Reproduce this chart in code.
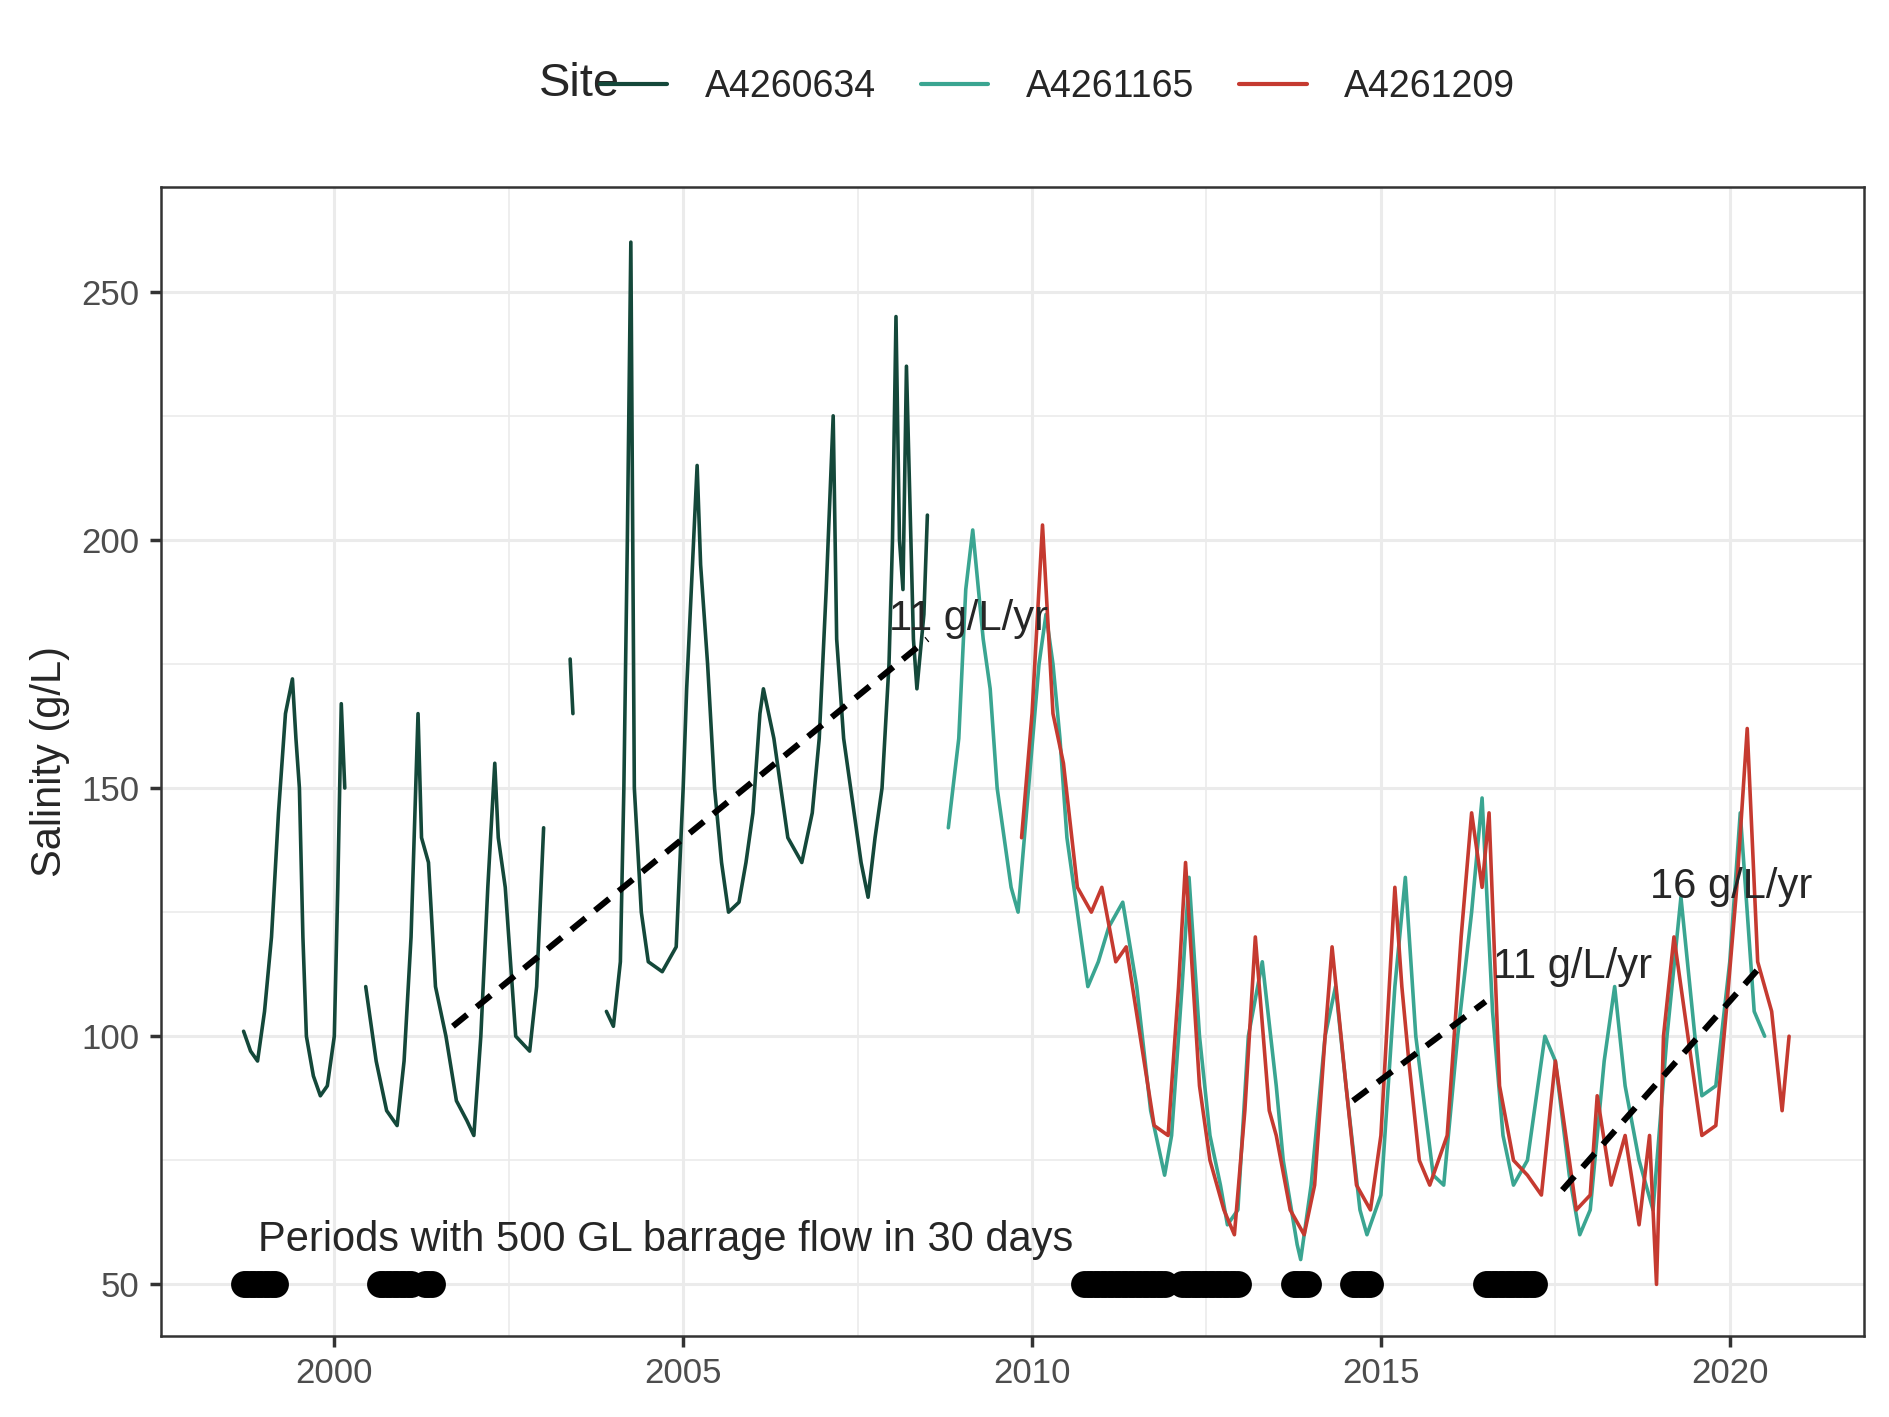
import numpy as np, pandas as pd, matplotlib
matplotlib.use("Agg")
import matplotlib.pyplot as plt, seaborn as sns
from matplotlib.lines import Line2D

# A4260634 segments (decimal year, salinity)
s1_t = [[1998.7,1998.8,1998.9,1999.0,1999.1,1999.2,1999.3,1999.4,1999.45,1999.5,1999.55,1999.6,1999.7,1999.8,1999.9,2000.0,2000.05,2000.1,2000.15],
        [2000.45,2000.6,2000.75,2000.9,2001.0,2001.1,2001.2,2001.25,2001.35,2001.45,2001.6,2001.75,2001.9,2002.0,2002.1,2002.2,2002.3,2002.35,2002.45,2002.6,2002.8,2002.9,2003.0],
        [2003.38,2003.42],
        [2003.9,2004.0,2004.1,2004.15,2004.2,2004.25,2004.3,2004.4,2004.5,2004.7,2004.9,2005.0,2005.05,2005.15,2005.2,2005.25,2005.35,2005.45,2005.55,2005.65,2005.8,2005.9,2006.0,2006.1,2006.15,2006.3,2006.5,2006.7,2006.85,2006.95,2007.05,2007.15,2007.2,2007.3,2007.45,2007.55,2007.65,2007.75,2007.85,2007.95,2008.0,2008.05,2008.1,2008.15,2008.2,2008.3,2008.35,2008.45,2008.5]]
s1_v = [[101,97,95,105,120,145,165,172,160,150,120,100,92,88,90,100,130,167,150],
        [110,95,85,82,95,120,165,140,135,110,100,87,83,80,100,130,155,140,130,100,97,110,142],
        [176,165],
        [105,102,115,150,200,260,150,125,115,113,118,150,170,200,215,195,175,150,135,125,127,135,145,165,170,160,140,135,145,160,190,225,180,160,145,135,128,140,150,175,200,245,200,190,235,180,170,185,205]]
# A4261165
s2_t = [2008.8,2008.95,2009.05,2009.15,2009.3,2009.4,2009.5,2009.6,2009.7,2009.8,2009.95,2010.1,2010.2,2010.3,2010.4,2010.5,2010.6,2010.7,2010.8,2010.95,2011.1,2011.3,2011.5,2011.7,2011.9,2012.0,2012.15,2012.25,2012.4,2012.55,2012.7,2012.8,2012.95,2013.1,2013.3,2013.5,2013.6,2013.8,2013.85,2014.0,2014.2,2014.35,2014.5,2014.7,2014.8,2015.0,2015.2,2015.35,2015.5,2015.75,2015.9,2016.1,2016.3,2016.45,2016.6,2016.75,2016.9,2017.1,2017.35,2017.5,2017.7,2017.85,2018.0,2018.2,2018.35,2018.5,2018.7,2018.9,2019.1,2019.3,2019.5,2019.6,2019.8,2020.0,2020.15,2020.35,2020.5]
s2_v = [142,160,190,202,180,170,150,140,130,125,150,175,185,175,160,140,130,120,110,115,122,127,110,85,72,80,110,132,100,80,70,62,65,100,115,90,75,58,55,70,100,110,90,65,60,68,110,132,100,72,70,100,125,148,105,80,70,75,100,95,72,60,65,95,110,90,75,65,100,128,100,88,90,115,145,105,100]
# A4261209
s3_t = [2009.85,2010.0,2010.15,2010.3,2010.45,2010.65,2010.85,2011.0,2011.2,2011.35,2011.55,2011.75,2011.95,2012.1,2012.2,2012.4,2012.55,2012.75,2012.9,2013.05,2013.2,2013.4,2013.5,2013.7,2013.9,2014.05,2014.2,2014.3,2014.5,2014.65,2014.85,2015.0,2015.2,2015.3,2015.4,2015.55,2015.7,2015.95,2016.15,2016.3,2016.45,2016.55,2016.7,2016.9,2017.1,2017.3,2017.5,2017.6,2017.8,2018.0,2018.1,2018.3,2018.5,2018.7,2018.85,2018.95,2019.05,2019.2,2019.4,2019.6,2019.8,2019.95,2020.1,2020.25,2020.4,2020.6,2020.75,2020.85]
s3_v = [140,165,203,165,155,130,125,130,115,118,100,82,80,110,135,90,75,65,60,85,120,85,80,65,60,70,100,118,90,70,65,80,130,110,95,75,70,80,120,145,130,145,90,75,72,68,95,85,65,68,88,70,80,62,80,50,100,120,100,80,82,105,130,162,115,105,85,100]

trend_x = [[2001.7,2008.5],[2014.6,2016.5],[2017.6,2020.5]]
trend_y = [[102,180],[87,107],[69,115]]
trend_lab = ["11 g/L/yr","11 g/L/yr","16 g/L/yr"]
lab_xy = [(2007.95,180),(2016.6,110),(2018.85,126)]
flow_start = [1998.7,2000.65,2001.3,2010.75,2012.15,2013.75,2014.6,2016.5]
flow_end   = [1999.15,2001.1,2001.4,2011.9,2012.95,2013.95,2014.85,2017.2]

rows=[]
for k,(t,v) in enumerate(zip(s1_t,s1_v)):
    rows += [("A4260634",k,a,b) for a,b in zip(t,v)]
rows += [("A4261165",10,a,b) for a,b in zip(s2_t,s2_v)]
rows += [("A4261209",20,a,b) for a,b in zip(s3_t,s3_v)]
df = pd.DataFrame(rows, columns=["Site","seg","t","v"])

sns.set_theme(style="whitegrid")
plt.rcParams['font.family']=['Arial','Liberation Sans','DejaVu Sans']
fig, ax = plt.subplots(figsize=(9.445,7.085), dpi=200)
fig.subplots_adjust(left=0.085,right=0.987,top=0.868,bottom=0.057)
pal = {"A4260634":"#14483A","A4261165":"#3AA591","A4261209":"#C53A30"}
sns.lineplot(data=df, x="t", y="v", hue="Site", units="seg", estimator=None,
             palette=pal, lw=1.3, ax=ax, legend=False, sort=False)
for tx,ty in zip(trend_x,trend_y):
    ax.plot(tx,ty,ls=(0,(3,2)),color="black",lw=2.2)
for s,(x,y) in zip(trend_lab,lab_xy):
    ax.text(x,y,s,ha="left",va="bottom",fontsize=15)
for a,b in zip(flow_start,flow_end):
    xs=np.arange(a,b+0.001,0.05)
    ax.scatter(xs,np.full(len(xs),50),s=75,color="black",zorder=5)
ax.text(1998.9,55,"Periods with 500 GL barrage flow in 30 days",fontsize=15,va="bottom")
ax.set_xlim(1997.51,2021.93); ax.set_ylim(39.55,271.1)
ax.set_xticks([2000,2005,2010,2015,2020]); ax.set_yticks([50,100,150,200,250])
ax.set_xticks([2002.5,2007.5,2012.5,2017.5],minor=True); ax.set_yticks([75,125,175,225],minor=True)
ax.grid(which="major",color="#EBEBEB",lw=1.1); ax.grid(which="minor",color="#EBEBEB",lw=0.6)
for sp in ax.spines.values(): sp.set_color("#333333"); sp.set_linewidth(0.9)
ax.tick_params(axis="both",which="major",length=4,color="#333333",labelsize=12.5,labelcolor="#4D4D4D",bottom=True,left=True)
ax.set_xlabel(""); ax.set_ylabel("Salinity (g/L)",fontsize=15)
h=[Line2D([],[],color="none")]+[Line2D([],[],color=c,lw=1.5) for c in pal.values()]
leg=fig.legend(h,[""]+list(pal.keys()),loc="upper center",ncol=4,frameon=False,
           bbox_to_anchor=(0.52,0.975),fontsize=13.5,handlelength=1.8,columnspacing=1.2,handletextpad=1.0)
fig.text(0.328,0.941,"Site",fontsize=17,va="center",ha="right")
fig.savefig("out.png",dpi=200)
